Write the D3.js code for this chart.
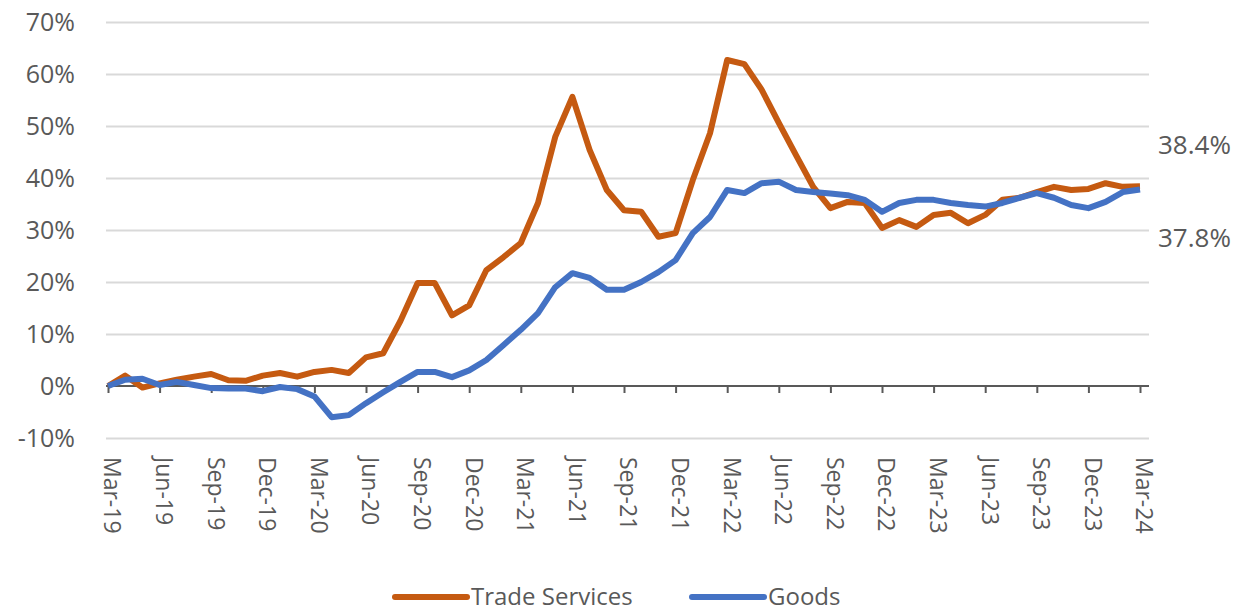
<!DOCTYPE html>
<html>
<head>
<meta charset="utf-8">
<script src="https://cdn.jsdelivr.net/npm/d3@7"></script>
<style>
  body { margin: 0; background: #fff; }
  text { font-family: "Open Sans", "Noto Sans", sans-serif; fill: #595959; }
</style>
</head>
<body>
<div id="chart"></div>
<script>
// monthly, Mar-19 .. Mar-24
var months = ["Mar-19","Apr-19","May-19","Jun-19","Jul-19","Aug-19","Sep-19","Oct-19","Nov-19","Dec-19",
    "Jan-20","Feb-20","Mar-20","Apr-20","May-20","Jun-20","Jul-20","Aug-20","Sep-20","Oct-20","Nov-20","Dec-20",
    "Jan-21","Feb-21","Mar-21","Apr-21","May-21","Jun-21","Jul-21","Aug-21","Sep-21","Oct-21","Nov-21","Dec-21",
    "Jan-22","Feb-22","Mar-22","Apr-22","May-22","Jun-22","Jul-22","Aug-22","Sep-22","Oct-22","Nov-22","Dec-22",
    "Jan-23","Feb-23","Mar-23","Apr-23","May-23","Jun-23","Jul-23","Aug-23","Sep-23","Oct-23","Nov-23","Dec-23",
    "Jan-24","Feb-24","Mar-24"];

var tradeServices = [0, 2.0, -0.3, 0.5, 1.2, 1.8, 2.3, 1.1, 1.0, 2.0,
    2.5, 1.8, 2.7, 3.1, 2.5, 5.5, 6.3, 12.5, 19.8, 19.8, 13.6, 15.5,
    22.3, 24.8, 27.5, 35.2, 47.9, 55.6, 45.4, 37.7, 33.8, 33.5, 28.7, 29.4,
    39.6, 48.6, 62.7, 61.9, 57.0, 50.6, 44.4, 38.3, 34.2, 35.4, 35.2, 30.4,
    31.9, 30.6, 32.9, 33.3, 31.3, 32.9, 35.8, 36.2, 37.3, 38.3, 37.7, 37.9,
    39.0, 38.3, 38.4];

var goods = [0, 1.2, 1.4, 0.2, 0.8, 0.2, -0.4, -0.5, -0.5, -1.0,
    -0.2, -0.6, -2.0, -6.0, -5.6, -3.3, -1.2, 0.8, 2.7, 2.7, 1.7, 3.0,
    5.0, 7.9, 10.8, 14.0, 19.0, 21.7, 20.8, 18.5, 18.5, 20.0, 21.9, 24.2,
    29.4, 32.5, 37.7, 37.1, 39.0, 39.3, 37.7, 37.3, 37.0, 36.7, 35.8, 33.5,
    35.2, 35.8, 35.8, 35.2, 34.8, 34.5, 35.2, 36.2, 37.1, 36.2, 34.8, 34.2,
    35.4, 37.3, 37.8];

var yTicks = [-10, 0, 10, 20, 30, 40, 50, 60, 70];
var seriesNames = ["Trade Services", "Goods"];
var seriesColors = ["#C55A11", "#4472C4"];
var endLabels = ["38.4%", "37.8%"];

var W = 1239, H = 614;
var plotLeft = 106, plotRight = 1149;

var svg = d3.select("#chart").append("svg")
    .attr("width", W)
    .attr("height", H);

var x = d3.scalePoint()
    .domain(months)
    .range([108, 1140]);

var y = d3.scaleLinear()
    .domain([-10, 70])
    .range([438, 22]);

// gridlines + y labels
var yAxis = svg.append("g")
    .attr("transform", "translate(" + plotLeft + ",0)")
    .call(d3.axisLeft(y)
        .tickValues(yTicks)
        .tickSize(-(plotRight - plotLeft))
        .tickPadding(31)
        .tickFormat(function (d) { return d + "%"; }));
yAxis.select(".domain").remove();
yAxis.selectAll(".tick line")
    .attr("stroke", "#D9D9D9")
    .attr("stroke-width", 2)
    .attr("display", function (d) { return d === 0 ? "none" : null; });
yAxis.selectAll(".tick text")
    .style("font-size", "25px")
    .style("fill", "#595959");

// x axis at 0%
var xAxis = svg.append("g")
    .attr("transform", "translate(0," + y(0) + ")")
    .call(d3.axisBottom(x)
        .tickValues(months.filter(function (d, i) { return i % 3 === 0; }))
        .tickSize(7)
        .tickSizeOuter(0));
xAxis.select(".domain").remove();
xAxis.selectAll(".tick line")
    .attr("stroke", "#595959")
    .attr("stroke-width", 2);
xAxis.selectAll(".tick text")
    .attr("transform", "rotate(90)")
    .attr("text-anchor", "start")
    .attr("x", 71)
    .attr("y", -4)
    .attr("dy", "0.35em")
    .style("font-size", "23px")
    .style("fill", "#595959");
xAxis.append("line")
    .attr("x1", plotLeft)
    .attr("x2", plotRight)
    .attr("stroke", "#595959")
    .attr("stroke-width", 2);

// lines
var line = d3.line()
    .x(function (d, i) { return x(months[i]); })
    .y(function (d) { return y(d); });

[tradeServices, goods].forEach(function (s, k) {
    svg.append("path")
        .attr("d", line(s))
        .attr("fill", "none")
        .attr("stroke", seriesColors[k])
        .attr("stroke-width", 6)
        .attr("stroke-linejoin", "round");
});

// end value labels
svg.append("text")
    .attr("x", 1158)
    .attr("y", 154)
    .style("font-size", "26px")
    .text(endLabels[0]);
svg.append("text")
    .attr("x", 1158)
    .attr("y", 247)
    .style("font-size", "26px")
    .text(endLabels[1]);

// legend
var legendX = [395, 692];
seriesNames.forEach(function (name, k) {
    var g = svg.append("g").attr("transform", "translate(" + legendX[k] + ",597)");
    g.append("line")
        .attr("x1", 0).attr("x2", 72)
        .attr("stroke", seriesColors[k])
        .attr("stroke-width", 6)
        .attr("stroke-linecap", "round");
    g.append("text")
        .attr("x", 76)
        .attr("dy", "0.35em")
        .style("font-size", "24px")
        .text(name);
});
</script>
</body>
</html>
